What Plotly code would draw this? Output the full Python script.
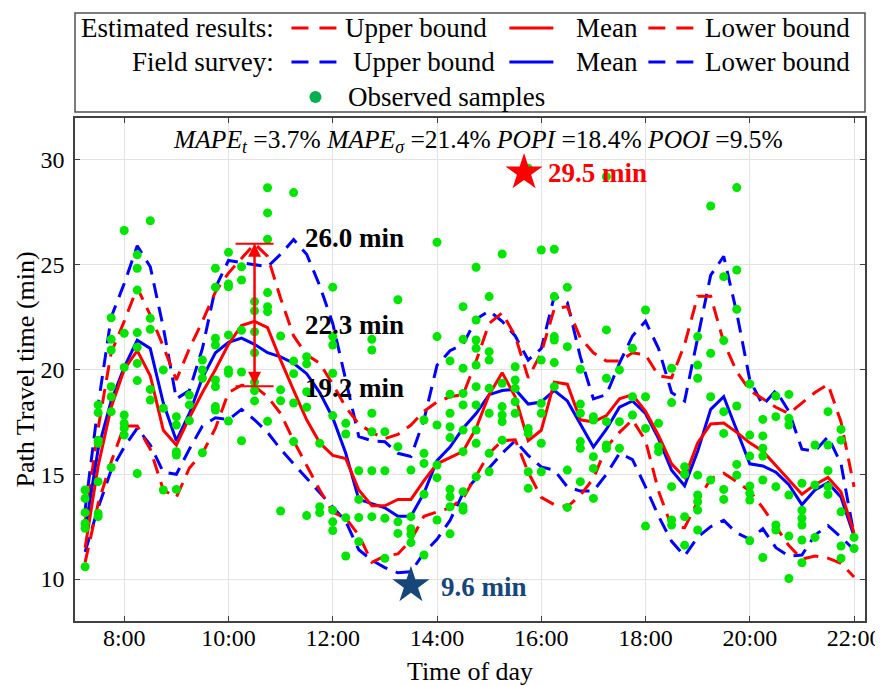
import plotly.graph_objects as go

# ---------------- data ----------------
hours = [7.25, 7.5, 7.75, 8.0, 8.25, 8.5, 8.75, 9.0, 9.25, 9.5, 9.75, 10.0,
         10.25, 10.5, 10.75, 11.0, 11.25, 11.5, 11.75, 12.0, 12.25, 12.5, 12.75, 13.0,
         13.25, 13.5, 13.75, 14.0, 14.25, 14.5, 14.75, 15.0, 15.25, 15.5, 15.75, 16.0,
         16.25, 16.5, 16.75, 17.0, 17.25, 17.5, 17.75, 18.0, 18.25, 18.5, 18.75, 19.0,
         19.25, 19.5, 19.75, 20.0, 20.25, 20.5, 20.75, 21.0, 21.25, 21.5, 21.75, 22.0]

survey_upper = [13.3, 18.3, 22.5, 24.1, 25.9, 24.9, 22.0, 18.6, 19.0, 21.0, 23.9, 25.2,
                25.1, 25.0, 24.9, 25.5, 26.2, 25.5, 24.0, 22.2, 19.5, 16.8, 16.6, 16.55,
                16.0, 15.85, 17.6, 20.2, 20.9, 21.2, 22.4, 22.8, 22.3, 21.6, 20.45, 21.0,
                23.5, 23.2, 20.6, 18.6, 18.8, 20.3, 21.6, 22.3, 21.0, 18.9, 18.5, 21.5,
                24.5, 25.4, 22.7, 19.5, 18.3, 19.0, 18.0, 16.2, 16.1, 16.8, 15.5, 12.1]
est_upper = [12.7, 17.2, 20.8, 22.3, 23.9, 22.6, 21.1, 19.5, 21.0, 22.3, 23.7, 24.6,
             25.3, 26.0, 25.4, 23.4, 21.6, 20.7, 20.3, 19.3, 18.2, 17.4, 17.0, 16.7,
             16.9, 17.35, 18.0, 18.45, 18.7, 18.8, 20.4, 22.2, 22.7, 21.6, 19.6, 20.8,
             22.9, 23.0, 21.5, 20.8, 20.4, 20.4, 20.8, 20.7, 19.7, 19.6, 21.2, 23.5,
             23.5, 21.3, 19.9, 19.0, 18.6, 18.2, 17.9, 18.4, 18.9, 19.3, 17.5, 14.4]
survey_mean = [12.3, 16.2, 18.5, 20.1, 21.4, 21.0, 18.4, 16.6, 17.9, 19.6, 20.8, 21.3,
               21.5, 21.2, 20.8, 20.6, 20.3, 19.8, 18.9, 17.7, 16.0, 13.8, 13.6, 13.4,
               13.0, 13.0, 14.1, 15.65, 16.3, 17.2, 17.9, 18.8, 19.0, 19.05, 18.35, 18.45,
               19.0, 18.5, 17.4, 16.3, 17.15, 18.2, 18.5, 17.9, 16.7, 15.2, 14.45, 16.1,
               18.1, 18.7, 17.1, 15.5, 15.4, 15.1, 14.5, 13.55, 14.25, 14.6, 13.9, 12.05]
est_mean = [11.5, 15.4, 18.2, 20.0, 20.9, 19.7, 17.1, 16.4, 17.7, 18.9, 20.0, 21.2,
            22.1, 22.3, 22.0, 20.45, 19.0, 17.6, 16.5, 15.9, 15.75, 14.25, 13.5, 13.5,
            13.8, 13.8, 14.7, 15.5, 15.8, 16.1, 17.2, 18.8, 19.85, 18.7, 16.6, 17.1,
            19.4, 19.3, 17.6, 17.5, 17.8, 18.6, 18.8, 18.0, 16.85, 15.5, 14.85, 16.5,
            17.4, 17.45, 17.0, 16.5, 16.1, 15.4, 14.7, 14.05, 14.5, 14.85, 14.15, 12.2]
survey_lower = [11.3, 13.4, 15.2, 16.3, 17.2, 16.4, 15.1, 15.0, 16.2, 17.3, 17.7, 17.6,
                18.1, 17.6, 17.0, 16.2, 15.5, 14.8, 14.1, 13.4, 12.75, 11.4, 10.9, 10.55,
                10.3, 10.35, 11.25, 11.9, 12.8, 14.1, 14.8, 15.3, 16.0, 16.6, 15.9, 15.35,
                15.2, 14.4, 14.2, 14.2, 15.0, 16.0, 15.7, 14.4, 13.0, 11.8, 11.1, 12.0,
                12.5, 12.8, 12.2, 11.9, 12.4, 11.5, 11.1, 11.15, 12.1, 12.55, 12.0, 11.4]
est_lower = [10.8, 13.6, 15.6, 17.3, 17.3, 16.2, 14.25, 13.9, 15.3, 16.0, 17.2, 18.9,
             19.25, 19.2, 18.7, 17.9, 16.6, 15.4, 14.25, 13.2, 12.9, 12.1, 10.8, 11.1,
             11.2, 11.85, 13.0, 13.2, 13.4, 13.85, 14.95, 16.0, 16.6, 16.65, 15.1, 13.9,
             13.55, 13.45, 14.0, 14.8, 16.3, 17.0, 17.6, 16.6, 14.2, 12.5, 12.45, 13.7,
             14.8, 15.05, 14.65, 14.2, 13.4, 12.5, 11.6, 10.95, 11.1, 11.0, 10.75, 10.1]

# observed samples per time slot
obs_hours = hours
obs_values = [
    [14.25, 13.85, 13.17, 12.66, 12.42, 10.59],
    [18.31, 17.94, 16.63, 16.48, 14.65, 13.13, 12.98],
    [22.47, 21.44, 20.93, 19.18, 18.70, 17.99, 15.33],
    [26.63, 21.73, 20.10, 17.83, 17.43, 17.19, 16.87],
    [25.47, 24.83, 23.79, 21.76, 21.06, 20.29, 19.47, 15.04],
    [27.10, 22.44, 21.92, 19.05, 18.54],
    [19.98, 18.15, 14.25],
    [17.75, 17.35, 16.08, 15.92, 14.28],
    [18.78, 18.31, 17.56],
    [20.45, 19.98, 19.58, 16.03],
    [24.83, 23.92, 21.49, 21.17, 19.50, 19.18, 18.23, 18.07],
    [25.59, 24.08, 23.95, 21.65, 19.98, 19.82, 17.54],
    [24.90, 24.27, 21.87, 19.88, 16.60],
    [23.24, 22.80, 21.80, 20.80, 19.40, 19.00, 18.50],
    [28.67, 27.47, 26.22, 23.67, 23.00, 22.76, 17.53],
    [21.60, 19.03, 18.51, 13.25],
    [28.44, 20.40, 19.80, 18.40, 16.56],
    [20.61, 20.27, 18.94, 18.20, 13.03],
    [16.48, 13.45, 13.17],
    [23.93, 21.57, 21.17, 19.82, 17.80, 13.29, 12.73, 12.32],
    [17.43, 16.92, 12.93, 11.10],
    [15.17, 13.80, 12.94, 11.78],
    [21.44, 20.93, 17.91, 17.03, 15.17, 12.98],
    [17.03, 15.17, 12.90, 10.99],
    [23.33, 16.32, 12.73, 12.18],
    [15.20, 12.98, 12.40, 12.14, 11.74],
    [17.59, 16.00, 15.52, 14.05, 11.15],
    [26.07, 21.57, 17.35, 15.44, 14.84, 12.82],
    [20.41, 18.82, 17.91, 17.27, 16.75, 14.29, 13.93, 13.45, 12.16],
    [23.00, 21.44, 20.06, 18.86, 18.31, 17.11, 16.08, 14.17, 13.45, 13.29],
    [24.88, 22.36, 21.41, 21.01, 20.21, 19.18, 18.31, 17.11, 16.48, 14.88],
    [23.48, 20.85, 20.45, 19.10, 17.91, 16.00, 15.12],
    [25.51, 19.34, 18.23, 17.83, 17.51, 16.63],
    [20.13, 19.50, 19.10, 18.46, 17.91],
    [29.60, 17.19, 16.95, 15.12, 14.33],
    [25.70, 20.45, 18.39, 17.91, 16.48, 15.12],
    [25.74, 23.48, 21.57, 21.41, 20.33, 19.18],
    [23.92, 21.09, 15.20, 13.42],
    [20.01, 18.35, 17.91, 16.56, 16.24, 14.65],
    [17.75, 17.59, 15.84, 15.28, 13.85],
    [29.20, 21.89, 19.58, 17.51, 16.40, 16.24],
    [19.98, 17.51, 16.24],
    [21.01, 18.70, 17.83],
    [22.84, 18.70, 17.19, 12.53],
    [17.43, 16.32, 16.08],
    [20.06, 18.42, 14.41, 12.82, 12.58],
    [15.36, 15.00, 12.98, 11.62],
    [21.57, 20.21, 19.58, 14.96, 14.01, 13.69, 13.29, 12.34],
    [27.80, 20.77, 18.70, 14.73],
    [24.43, 21.38, 17.99, 16.95, 14.28, 13.80],
    [28.68, 24.75, 22.87, 18.26, 15.47, 14.96],
    [19.31, 16.87, 15.87, 14.44, 14.09, 13.77, 11.83],
    [17.62, 16.83, 16.24, 15.87, 14.73, 11.03],
    [18.73, 17.75, 14.41, 12.58, 12.34],
    [18.81, 17.67, 17.35, 14.01, 12.05, 10.03],
    [14.57, 13.29, 12.90, 12.58, 11.86, 10.78],
    [16.40, 14.49, 11.99],
    [17.99, 16.40, 15.17, 14.41, 14.04],
    [17.14, 16.63, 13.21, 11.58, 10.99],
    [11.99, 11.46],
]

# highlighted interval of the estimate
bar_hour = 10.5
bar_lower = 19.2
bar_mean = 22.3
bar_upper = 26.0

# extremes
max_hour, max_value, max_label = 15.67, 29.4, "29.5 min"
min_hour, min_value, min_label = 13.5, 9.7, "9.6 min"

tick_hours = [8, 10, 12, 14, 16, 18, 20, 22]
tick_text = ["8:00", "10:00", "12:00", "14:00", "16:00", "18:00", "20:00", "22:00"]
y_ticks = [10, 15, 20, 25, 30]

metrics_text = ("<i>MAPE</i><sub><i>t</i></sub> =3.7% "
                "<i>MAPE</i><sub><i>σ</i></sub> =21.4% "
                "<i>POPI</i> =18.4% <i>POOI</i> =9.5%")

# ---------------- style ----------------
FONT = "Liberation Serif"
RED = "#ff0000"
BLUE = "#0000ff"
GREEN = "#00e600"
DARKBLUE = "#17467a"
DASH = "15px,9px"

# page offset of the figure (default body margin) and window size
OFF = 8
WIN_W, WIN_H = 883, 686
W, H = WIN_W - OFF, WIN_H - OFF
# plot area in window pixels
SPL, SPR, SPT, SPB = 74.5, 864.7, 118.0, 621.0


def px_x(p):
    return (p - SPL) / (SPR - SPL)


def px_y(p):
    return (SPB - p) / (SPB - SPT)


fig = go.Figure()

lines = [
    (survey_upper, BLUE, DASH),
    (survey_lower, BLUE, DASH),
    (est_upper, RED, DASH),
    (est_lower, RED, DASH),
    (survey_mean, BLUE, "solid"),
    (est_mean, RED, "solid"),
]
for vals, col, dash in lines:
    fig.add_trace(go.Scatter(x=hours, y=vals, mode="lines",
                             line=dict(color=col, width=3, dash=dash),
                             showlegend=False, hoverinfo="skip"))

ox, oy = [], []
for h, vals in zip(obs_hours, obs_values):
    for v in vals:
        ox.append(h)
        oy.append(v)
fig.add_trace(go.Scatter(x=ox, y=oy, mode="markers",
                         marker=dict(color=GREEN, size=9, line=dict(width=0)),
                         showlegend=False, hoverinfo="skip"))

# interval bar with caps
fig.add_trace(go.Scatter(x=[bar_hour], y=[bar_mean], mode="markers",
                         marker=dict(size=1, opacity=0),
                         error_y=dict(type="data", symmetric=False,
                                      array=[bar_upper - bar_mean],
                                      arrayminus=[bar_mean - bar_lower],
                                      width=19, thickness=2, color=RED),
                         showlegend=False, hoverinfo="skip"))
fig.add_annotation(x=bar_hour, y=bar_upper, ax=bar_hour, ay=bar_lower,
                   xref="x", yref="y", axref="x", ayref="y", text="",
                   showarrow=True, arrowhead=2, arrowside="end+start",
                   arrowsize=1.3, arrowwidth=2, arrowcolor=RED, standoff=0, startstandoff=0)

# stars
fig.add_trace(go.Scatter(x=[max_hour], y=[max_value], mode="markers",
                         marker=dict(symbol="star", size=28, color=RED, line=dict(width=0)),
                         showlegend=False, hoverinfo="skip"))
fig.add_trace(go.Scatter(x=[min_hour], y=[min_value], mode="markers",
                         marker=dict(symbol="star", size=28, color=DARKBLUE, line=dict(width=0)),
                         showlegend=False, hoverinfo="skip"))

bold = dict(family=FONT, size=27, color="black")
fig.add_annotation(x=11.42, y=26.28, text="<b>%.1f min</b>" % bar_upper, showarrow=False,
                   xanchor="left", yanchor="middle", font=bold)
fig.add_annotation(x=11.42, y=22.12, text="<b>%.1f min</b>" % bar_mean, showarrow=False,
                   xanchor="left", yanchor="middle", font=bold)
fig.add_annotation(x=11.42, y=19.10, text="<b>%.1f min</b>" % bar_lower, showarrow=False,
                   xanchor="left", yanchor="middle", font=bold)
fig.add_annotation(x=16.1, y=29.37, text="<b>%s</b>" % max_label, showarrow=False,
                   xanchor="left", yanchor="middle", font=dict(family=FONT, size=27, color=RED))
fig.add_annotation(x=14.03, y=9.63, text="<b>%s</b>" % min_label, showarrow=False,
                   xanchor="left", yanchor="middle", font=dict(family=FONT, size=27, color=DARKBLUE))

# metrics text
fig.add_annotation(x=px_x(478), y=px_y(141), xref="paper", yref="paper", text=metrics_text,
                   showarrow=False, xanchor="center", yanchor="middle",
                   font=dict(family=FONT, size=25.5, color="black"))

# y axis title (placed explicitly)
fig.add_annotation(x=px_x(24), y=px_y(370), xref="paper", yref="paper",
                   text="Path Travel time (min)", textangle=-90, showarrow=False,
                   xanchor="center", yanchor="middle",
                   font=dict(family=FONT, size=26, color="black"))

# ---------------- legend box (drawn) ----------------
shapes = []
shapes.append(dict(type="rect", xref="paper", yref="paper",
                   x0=px_x(74.5), x1=px_x(864.7), y0=px_y(112), y1=px_y(13),
                   line=dict(color="#505050", width=1.5), fillcolor="white", layer="below"))


def seg(x0, x1, yy, col):
    shapes.append(dict(type="line", xref="paper", yref="paper",
                       x0=px_x(x0), x1=px_x(x1), y0=px_y(yy), y1=px_y(yy),
                       line=dict(color=col, width=3)))


row_y = [28, 62, 97]
for r, col in ((0, RED), (1, BLUE)):
    yy = row_y[r]
    seg(291, 308, yy, col)
    seg(319, 336, yy, col)
    seg(509, 553, yy, col)
    seg(648, 665, yy, col)
    seg(676, 693, yy, col)
shapes.append(dict(type="circle", xref="paper", yref="paper",
                   x0=px_x(309), x1=px_x(321), y0=px_y(103), y1=px_y(91),
                   fillcolor="#00b050", line=dict(width=0)))

lf = dict(family=FONT, size=27, color="black")


def ltext(xp, yp, txt, anchor):
    fig.add_annotation(x=px_x(xp), y=px_y(yp), xref="paper", yref="paper", text=txt,
                       showarrow=False, xanchor=anchor, yanchor="middle", font=lf)


ltext(276, row_y[0], "Estimated results:", "right")
ltext(343, row_y[0], "Upper bound", "left")
ltext(574, row_y[0], "Mean", "left")
ltext(703, row_y[0], "Lower bound", "left")
ltext(276, row_y[1], "Field survey:", "right")
ltext(351, row_y[1], "Upper bound", "left")
ltext(574, row_y[1], "Mean", "left")
ltext(703, row_y[1], "Lower bound", "left")
ltext(346, row_y[2], "Observed samples", "left")

axis_common = dict(showline=True, linecolor="#404040", linewidth=1.5, mirror="ticks",
                   ticks="inside", ticklen=5, tickcolor="#404040", tickwidth=1,
                   showgrid=True, gridcolor="#e3e3e3", gridwidth=1, zeroline=False,
                   tickfont=dict(family=FONT, size=24, color="black"))

fig.update_layout(
    width=W, height=H,
    margin=dict(l=SPL - OFF, r=WIN_W - SPR, t=SPT - OFF, b=WIN_H - SPB, autoexpand=False),
    paper_bgcolor="white", plot_bgcolor="white",
    shapes=shapes,
    showlegend=False,
    font=dict(family=FONT, color="black"),
    xaxis=dict(range=[7.056, 22.21], tickvals=tick_hours, ticktext=tick_text,
               title=dict(text="Time of day", font=dict(family=FONT, size=26), standoff=14),
               automargin=False, **axis_common),
    yaxis=dict(range=[8, 32], tickvals=y_ticks, automargin=False, **axis_common),
)

try:
    fig.update_xaxes(ticklabelstandoff=-6)
except Exception:
    pass
try:
    fig.update_yaxes(ticklabelstandoff=4)
except Exception:
    pass

fig.write_html("out.html")
